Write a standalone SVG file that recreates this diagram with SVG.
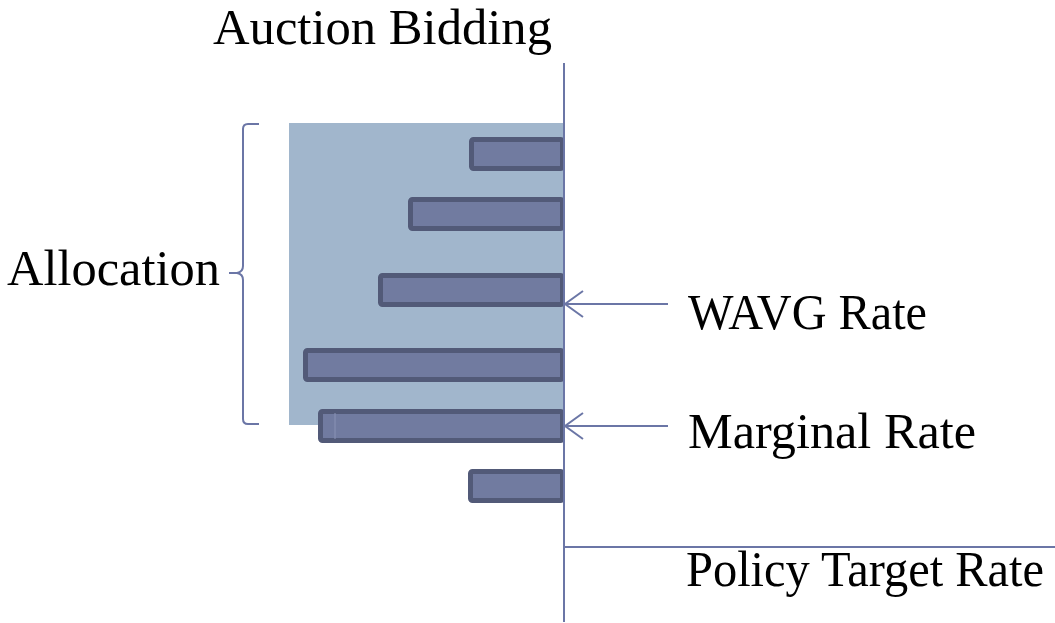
<svg xmlns="http://www.w3.org/2000/svg" width="1055" height="623" viewBox="0 0 1055 623">
  <defs>
    <style>
      .label { font-family: "Liberation Serif", "Times New Roman", serif; font-size: 50px; fill: #000; }
      .bar { fill: #717ba0; stroke: #525a78; stroke-width: 5; }
      .axis { stroke: #6b76a6; stroke-width: 2; fill: none; }
      .thin { stroke: #6b76a6; stroke-width: 2; fill: none; }
    </style>
    <marker id="openArrow" viewBox="0 0 20 28" refX="19" refY="14" markerWidth="20" markerHeight="28" markerUnits="userSpaceOnUse" orient="auto">
      <path d="M1,1 L19,14 L1,27" fill="none" stroke="#6b76a6" stroke-width="2"/>
    </marker>
  </defs>

  <rect width="1055" height="623" fill="#fff"/>

  <!-- allocated band -->
  <g id="allocation-band">
    <rect x="289" y="123" width="275" height="302" fill="#a1b6cc"/>
  </g>

  <!-- bids -->
  <g id="bid-1"><rect class="bar" x="471.5" y="139.5" width="91" height="29" rx="2"/></g>
  <g id="bid-2"><rect class="bar" x="410.5" y="199.5" width="152" height="29" rx="2"/></g>
  <g id="bid-3"><rect class="bar" x="380.5" y="275.5" width="182" height="29" rx="2"/></g>
  <g id="bid-4"><rect class="bar" x="305.5" y="350.5" width="257" height="29" rx="2"/></g>
  <g id="bid-5">
    <rect class="bar" x="320.5" y="411.5" width="242" height="29" rx="2"/>
    <line x1="335" y1="413" x2="335" y2="439" stroke="#8a93b5" stroke-width="1"/>
  </g>
  <g id="bid-6"><rect class="bar" x="470.5" y="471.5" width="92" height="29" rx="2"/></g>

  <!-- axes and pointers -->
  <g id="connectors">
    <line class="axis" x1="564" y1="63" x2="564" y2="622"/>
    <line class="axis" x1="564" y1="547" x2="1055" y2="547"/>
    <line class="thin" x1="668" y1="304" x2="565" y2="304" marker-end="url(#openArrow)"/>
    <line class="thin" x1="668" y1="426" x2="565" y2="426" marker-end="url(#openArrow)"/>
    <path class="thin" d="M259,124 L248,124 Q243,124 243,129 L243,266 Q243,272 237,273 L229,273 M237,273 Q243,274 243,280 L243,419 Q243,424 248,424 L259,424"/>
  </g>

  <!-- labels -->
  <g id="title"><text class="label" x="213" y="44" font-size="48" textLength="339" lengthAdjust="spacingAndGlyphs">Auction Bidding</text></g>
  <g id="allocation-label"><text class="label" x="7" y="285" textLength="213" lengthAdjust="spacingAndGlyphs">Allocation</text></g>
  <g id="wavg-label"><text class="label" x="688" y="329" textLength="239" lengthAdjust="spacingAndGlyphs">WAVG Rate</text></g>
  <g id="marginal-label"><text class="label" x="688" y="448" textLength="288" lengthAdjust="spacingAndGlyphs">Marginal Rate</text></g>
  <g id="policy-label"><text class="label" x="686" y="586" textLength="358" lengthAdjust="spacingAndGlyphs">Policy Target Rate</text></g>
</svg>
